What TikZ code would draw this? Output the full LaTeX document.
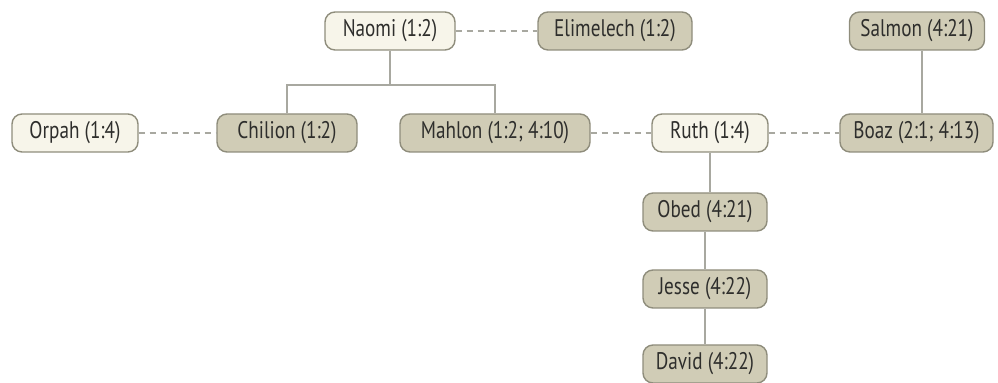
\documentclass[tikz,border=0pt]{standalone}
\usepackage{fontspec}
\setmainfont[FakeStretch=0.8]{PT Sans}
\definecolor{boxline}{HTML}{8F8D7C}
\definecolor{lightfill}{HTML}{F7F5EA}
\definecolor{darkfill}{HTML}{D0CCB6}
\definecolor{txt}{HTML}{2E2E2C}
\definecolor{conn}{HTML}{A8A8A0}
\tikzset{
  person/.style={draw=boxline, line width=0.7pt, rounded corners=5pt, minimum height=19pt, inner sep=0pt, text=txt, font=\fontsize{12}{14}\selectfont},
  lightp/.style={person, fill=lightfill},
  darkp/.style={person, fill=darkfill},
  tie/.style={draw=conn, line width=0.6pt},
  marriage/.style={draw=conn, line width=0.6pt, dash pattern=on 3pt off 2.5pt},
}
\begin{document}
\begin{tikzpicture}[x=0.5pt,y=-0.5pt]
\useasboundingbox (0,0) rectangle (998,383);
\node[lightp, minimum width=65pt] (naomi) at (390,31) {Naomi (1:2)};
\node[darkp, minimum width=77pt] (elim) at (615,31) {Elimelech (1:2)};
\node[darkp, minimum width=67.5pt] (salmon) at (917,31) {Salmon (4:21)};
\node[lightp, minimum width=63pt] (orpah) at (75,133) {Orpah (1:4)};
\node[darkp, minimum width=70pt] (chilion) at (287,133) {Chilion (1:2)};
\node[darkp, minimum width=95pt] (mahlon) at (495,133) {Mahlon (1:2; 4:10)};
\node[lightp, minimum width=58pt] (ruth) at (710,133) {Ruth (1:4)};
\node[darkp, minimum width=76.5pt] (boaz) at (916.5,133) {Boaz (2:1; 4:13)};
\node[darkp, minimum width=62pt] (obed) at (705,212) {Obed (4:21)};
\node[darkp, minimum width=62pt] (jesse) at (705,289) {Jesse (4:22)};
\node[darkp, minimum width=62pt] (david) at (705,364) {David (4:22)};
\coordinate (fork) at (390,85);
\draw[marriage] (naomi) -- (elim);
\draw[marriage] (orpah) -- (chilion);
\draw[marriage] (mahlon) -- (ruth);
\draw[marriage] (ruth) -- (boaz);
\draw[tie] (naomi.south) -- (fork);
\draw[tie] (chilion.north) |- (fork) -| (mahlon.north);
\draw[tie] (salmon.south -| 922,0) -- (boaz.north -| 922,0);
\draw[tie] (ruth.south) -- (obed.north -| ruth.south);
\draw[tie] (obed) -- (jesse);
\draw[tie] (jesse) -- (david);
\end{tikzpicture}
\end{document}
